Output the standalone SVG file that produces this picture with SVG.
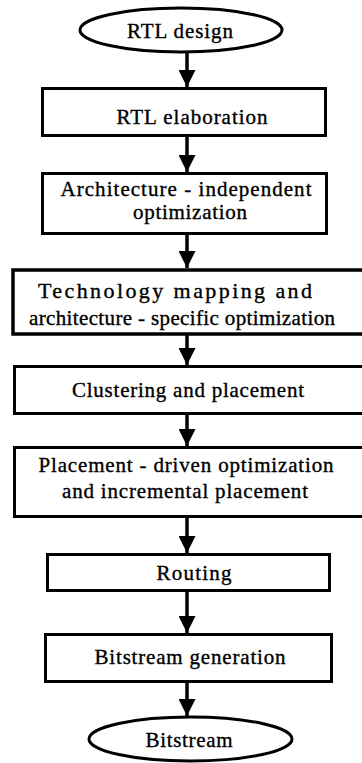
<svg xmlns="http://www.w3.org/2000/svg" width="362" height="763" viewBox="0 0 362 763">
<style>
.box{fill:#fff;stroke:#000;stroke-width:3}
.ell{fill:#fff;stroke:#000;stroke-width:3}
.t{font-family:"Liberation Serif","Times New Roman",serif;font-size:21px;fill:#000;stroke:#000;stroke-width:0.35;text-anchor:middle}
.big{font-size:22px}
.con{stroke:#000;stroke-width:3.5;fill:none;marker-end:url(#ah)}
</style>
<defs>
<marker id="ah" markerUnits="userSpaceOnUse" markerWidth="17" markerHeight="17" refX="17" refY="8.5" orient="auto" viewBox="0 0 17 17">
<path d="M0,0 L17,8.5 L0,17 z" fill="#000"/>
</marker>
</defs>
<rect width="362" height="763" fill="#fff"/>
<g id="connectors">
<line class="con" x1="187" y1="53" x2="187" y2="87"/>
<line class="con" x1="187" y1="137" x2="187" y2="172"/>
<line class="con" x1="187" y1="235" x2="187" y2="268"/>
<line class="con" x1="187" y1="335" x2="187" y2="365"/>
<line class="con" x1="187" y1="415" x2="187" y2="446"/>
<line class="con" x1="187" y1="518" x2="187" y2="553"/>
<line class="con" x1="187" y1="592" x2="187" y2="633"/>
<line class="con" x1="187" y1="683" x2="187" y2="716"/>
</g>
<g id="n-rtl-design">
<ellipse class="ell" cx="181" cy="30" rx="101" ry="22"/>
<text class="t" x="180" y="38" textLength="106" lengthAdjust="spacing">RTL design</text>
</g>
<g id="n-rtl-elab">
<rect class="box" x="42.5" y="88.5" width="283" height="47"/>
<text class="t" x="192" y="124" textLength="151" lengthAdjust="spacing">RTL elaboration</text>
</g>
<g id="n-arch-indep">
<rect class="box" x="42.5" y="173.5" width="284" height="60"/>
<text class="t" x="186" y="196" textLength="251" lengthAdjust="spacing">Architecture - independent</text>
<text class="t" x="190" y="219" textLength="114" lengthAdjust="spacing">optimization</text>
</g>
<g id="n-techmap">
<rect class="box" x="13" y="270" width="360" height="64" style="stroke-width:3.5"/>
<text class="t big" x="175" y="298" textLength="274" lengthAdjust="spacing">Technology mapping and</text>
<text class="t" x="182" y="325" textLength="306" lengthAdjust="spacing">architecture - specific optimization</text>
</g>
<g id="n-cluster">
<rect class="box" x="14.5" y="366.5" width="360" height="47"/>
<text class="t" x="188" y="397" textLength="232" lengthAdjust="spacing">Clustering and placement</text>
</g>
<g id="n-pdo">
<rect class="box" x="14.5" y="447.5" width="360" height="69"/>
<text class="t" x="186" y="472" textLength="295" lengthAdjust="spacing">Placement - driven optimization</text>
<text class="t" x="185" y="498" textLength="246" lengthAdjust="spacing">and incremental placement</text>
</g>
<g id="n-routing">
<rect class="box" x="47.5" y="554.5" width="282" height="36"/>
<text class="t" x="194" y="580" textLength="75" lengthAdjust="spacing">Routing</text>
</g>
<g id="n-bitgen">
<rect class="box" x="45.5" y="634.5" width="286" height="47"/>
<text class="t" x="190" y="664" textLength="191" lengthAdjust="spacing">Bitstream generation</text>
</g>
<g id="n-bitstream">
<ellipse class="ell" cx="190.5" cy="739" rx="101.5" ry="22"/>
<text class="t" x="189" y="747" textLength="87" lengthAdjust="spacing">Bitstream</text>
</g>
</svg>
